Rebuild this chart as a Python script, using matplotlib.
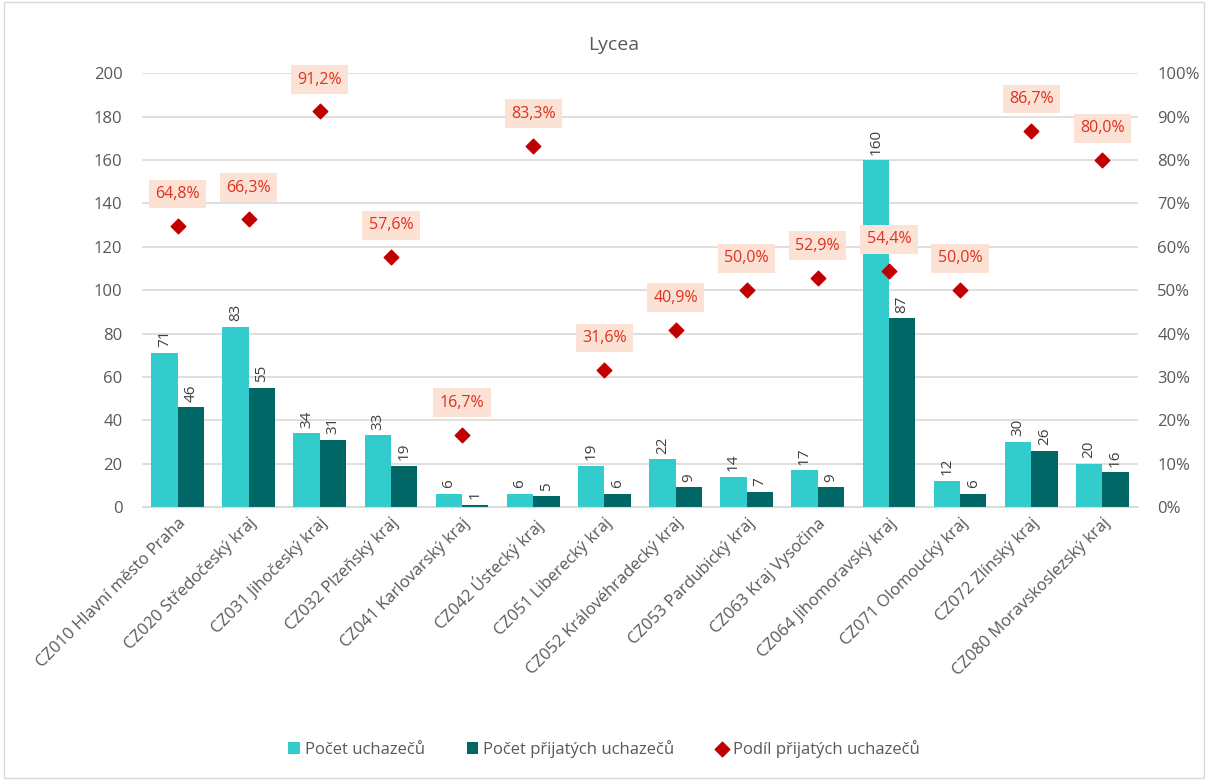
import numpy as np
import matplotlib
matplotlib.use('Agg')
from matplotlib import pyplot as plt
from matplotlib.ticker import FuncFormatter

regions = [
    'CZ010 Hlavní město Praha', 'CZ020 Středočeský kraj', 'CZ031 Jihočeský kraj',
    'CZ032 Plzeňský kraj', 'CZ041 Karlovarský kraj', 'CZ042 Ústecký kraj',
    'CZ051 Liberecký kraj', 'CZ052 Královéhradecký kraj', 'CZ053 Pardubický kraj',
    'CZ063 Kraj Vysočina', 'CZ064 Jihomoravský kraj', 'CZ071 Olomoucký kraj',
    'CZ072 Zlínský kraj', 'CZ080 Moravskoslezský kraj',
]
uchazeci = [71, 83, 34, 33, 6, 6, 19, 22, 14, 17, 160, 12, 30, 20]
prijati = [46, 55, 31, 19, 1, 5, 6, 9, 7, 9, 87, 6, 26, 16]
podil = [64.8, 66.3, 91.2, 57.6, 16.7, 83.3, 31.6, 40.9, 50.0, 52.9, 54.4, 50.0, 86.7, 80.0]

CYAN = '#33CCCC'
DARK = '#006666'
RED = '#C00000'
GRAY = '#595959'

plt.rcParams['font.family'] = ['Open Sans', 'DejaVu Sans']

fig = plt.figure(figsize=(12.08, 7.8), dpi=100)
ax = fig.add_axes([0.1175, 0.35, 0.8245, 0.556])
ax2 = ax.twinx()

x = np.arange(len(regions))
w = 0.37
b1 = ax.bar(x - w / 2, uchazeci, w, color=CYAN, label='Počet uchazečů', zorder=2)
b2 = ax.bar(x + w / 2, prijati, w, color=DARK, label='Počet přijatých uchazečů', zorder=2)

for bars in (b1, b2):
    for bar in bars:
        h = bar.get_height()
        ax.annotate(f'{int(h)}', (bar.get_x() + bar.get_width() / 2, h),
                    xytext=(0, 4), textcoords='offset points', rotation=90,
                    ha='center', va='bottom', fontsize=11, color='#404040')

ax2.scatter(x, podil, marker='D', s=55, color=RED, zorder=3,
            label='Podíl přijatých uchazečů')
for xi, p in zip(x, podil):
    ax2.annotate(f'{p:.1f}%'.replace('.', ','), (xi, p), xytext=(0, 23),
                 textcoords='offset points', ha='center', va='center',
                 fontsize=11.5, color='#E0301E',
                 bbox=dict(boxstyle='square,pad=0.4', fc='#FBE2D5', ec='none'))

ax.set_xlim(-0.5, len(regions) - 0.5)
ax.set_ylim(0, 200)
ax.set_yticks(range(0, 201, 20))
ax2.set_ylim(0, 100)
ax2.set_yticks(range(0, 101, 10))
ax2.yaxis.set_major_formatter(FuncFormatter(lambda v, _: f'{int(v)}%'))

ax.set_xticks(x)
ax.set_xticklabels(regions, rotation=45, ha='right', rotation_mode='anchor')
ax.grid(axis='y', color='#D9D9D9', linewidth=1.2, zorder=0)
ax.set_axisbelow(True)

for a in (ax, ax2):
    for s in a.spines.values():
        s.set_visible(False)
    a.tick_params(length=0, labelsize=12, labelcolor=GRAY, pad=14)
ax.spines['bottom'].set_visible(True)
ax.spines['bottom'].set_color('#D9D9D9')
ax.tick_params(axis='x', labelsize=12, pad=6)

fig.text(0.508, 0.942, 'Lycea', fontsize=14, color=GRAY, ha='center', va='center')

handles = [b1, b2, ax2.collections[0]]
fig.legend(handles, [h.get_label() for h in handles], loc='center',
           bbox_to_anchor=(0.5, 0.04), ncol=3, frameon=False, fontsize=12,
           labelcolor=GRAY, handlelength=0.7, handleheight=0.7,
           handletextpad=0.3, columnspacing=2.5)

fig.patches.append(plt.Rectangle((0.003, 0.003), 0.994, 0.994, transform=fig.transFigure,
                                 fill=False, ec='#D9D9D9', lw=1))

fig.savefig('out.png', dpi=100)
